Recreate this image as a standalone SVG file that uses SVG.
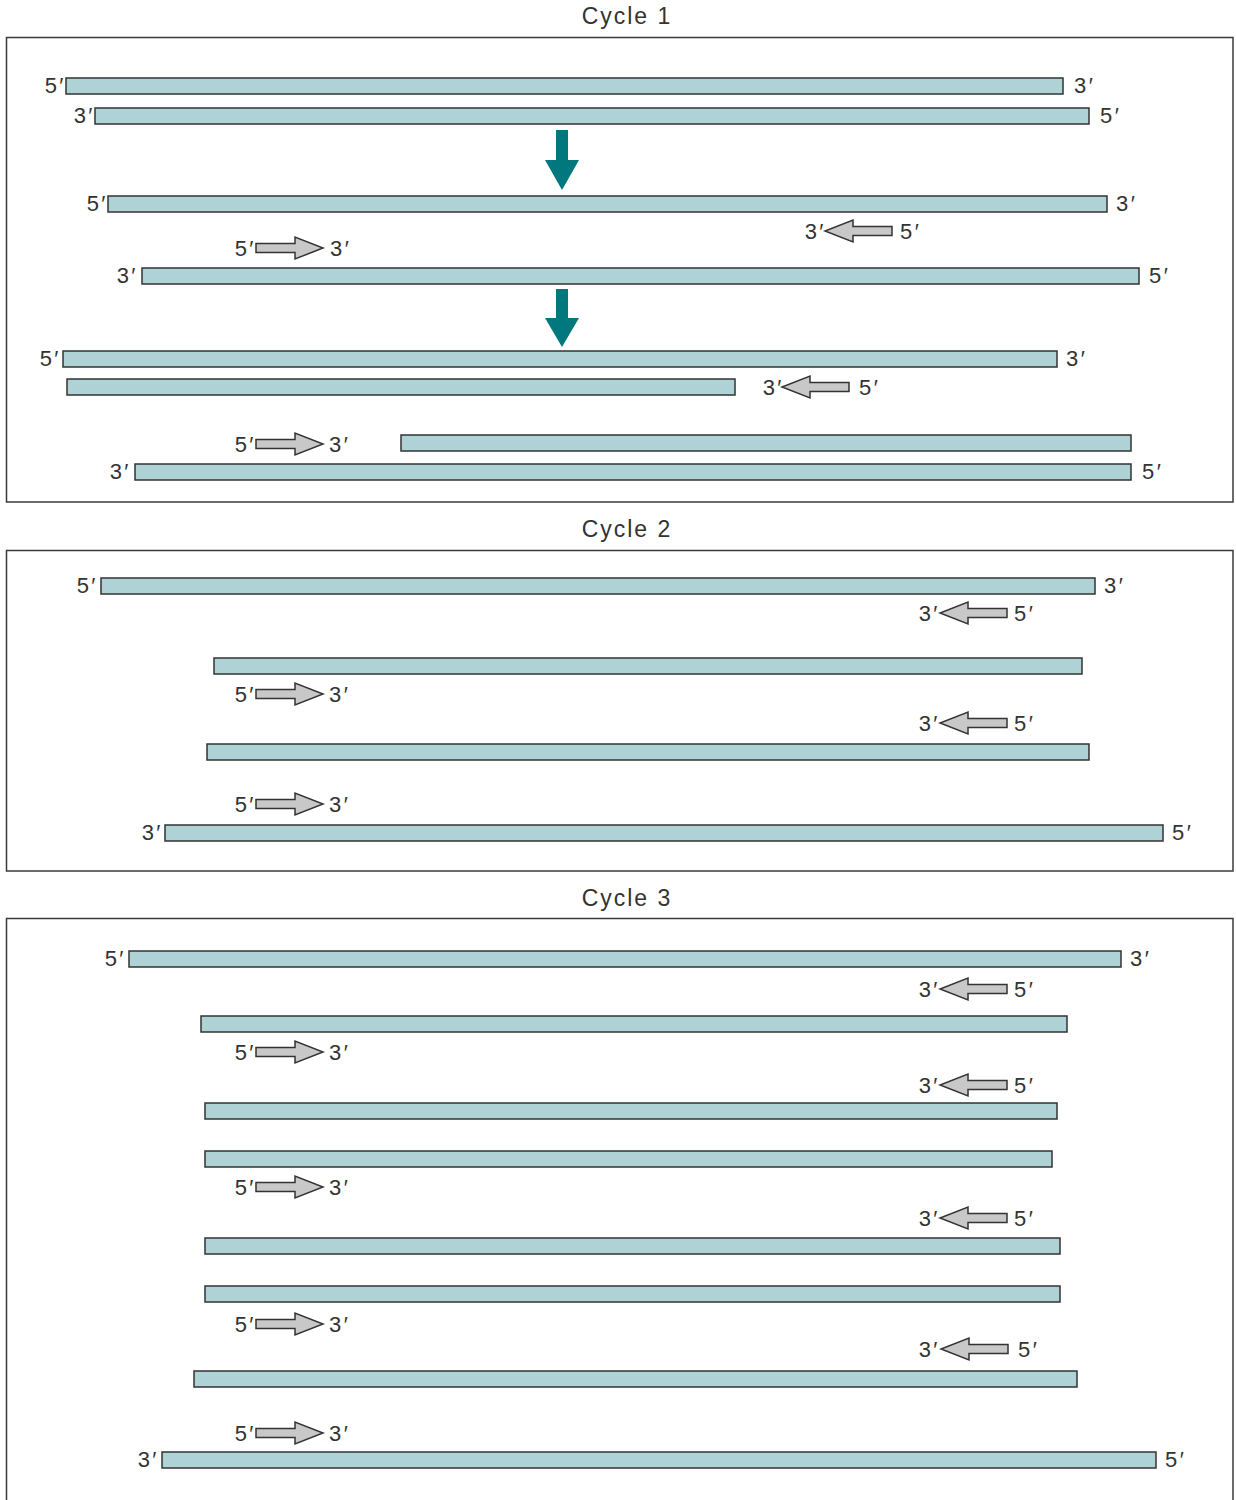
<svg xmlns="http://www.w3.org/2000/svg" xmlns:xlink="http://www.w3.org/1999/xlink" width="1236" height="1500" viewBox="0 0 1236 1500">
<style>
.frame{fill:none;stroke:#3a3a3a;stroke-width:1.5}
.s{fill:#aed2d6;stroke:#333;stroke-width:1.5}
.p{fill:#c8c8c8;stroke:#333;stroke-width:1.5;stroke-linejoin:miter}
.t{font-family:"Liberation Sans",Arial,"DejaVu Sans",sans-serif;font-size:22px;fill:#333;letter-spacing:2.5px}
.h{font-family:"Liberation Sans",Arial,"DejaVu Sans",sans-serif;font-size:23px;fill:#333;letter-spacing:2px;text-anchor:middle}
.e{text-anchor:end}
.big{fill:#00787d}
</style>
<defs>
<path id="fwd" class="p" d="M-67,-4.5 H-28 V-11 L0,0 L-28,11 V4.5 H-67 Z"/>
<path id="rev" class="p" d="M67,-4.5 H28 V-11 L0,0 L28,11 V4.5 H67 Z"/>
</defs>
<rect class="frame" x="6.5" y="37.5" width="1226.5" height="464.5"/>
<rect class="frame" x="6.5" y="550.5" width="1226.5" height="320.5"/>
<rect class="frame" x="6.5" y="918.5" width="1226.5" height="590"/>
<text class="h" x="627" y="24">Cycle 1</text>
<text class="h" x="627" y="537">Cycle 2</text>
<text class="h" x="627" y="906">Cycle 3</text>
<g id="connectors">
<path class="big" d="M556,130 H568 V160 H579 L562,190 L545,160 H556 Z"/>
<path class="big" d="M556,289 H568 V318 H579 L562,347 L545,318 H556 Z"/>
</g>
<!-- Cycle 1 -->
<g id="c1s1"><rect class="s" x="66" y="78" width="997" height="16"/><text class="t e" x="66" y="93">5′</text><text class="t" x="1074" y="93">3′</text></g>
<g id="c1s2"><rect class="s" x="95" y="108" width="994" height="16"/><text class="t e" x="95" y="123">3′</text><text class="t" x="1100" y="123">5′</text></g>
<g id="c1s3"><rect class="s" x="108" y="196" width="999" height="16"/><text class="t e" x="108" y="211">5′</text><text class="t" x="1116" y="211">3′</text></g>
<g id="c1p1"><use xlink:href="#rev" x="825" y="231"/><text class="t e" x="826" y="239">3′</text><text class="t" x="900" y="239">5′</text></g>
<g id="c1p2"><use xlink:href="#fwd" x="323" y="248"/><text class="t e" x="256" y="256">5′</text><text class="t" x="330" y="256">3′</text></g>
<g id="c1s4"><rect class="s" x="142" y="268" width="997" height="16"/><text class="t e" x="138" y="283">3′</text><text class="t" x="1149" y="283">5′</text></g>
<g id="c1s5"><rect class="s" x="63" y="351" width="994" height="16"/><text class="t e" x="61" y="366">5′</text><text class="t" x="1066" y="366">3′</text></g>
<g id="c1s6"><rect class="s" x="67" y="379" width="668" height="16"/></g>
<g id="c1p3"><use xlink:href="#rev" x="782" y="387"/><text class="t e" x="784" y="395">3′</text><text class="t" x="859" y="395">5′</text></g>
<g id="c1p4"><use xlink:href="#fwd" x="323" y="444"/><text class="t e" x="256" y="452">5′</text><text class="t" x="329" y="452">3′</text></g>
<g id="c1s7"><rect class="s" x="401" y="435" width="730" height="16"/></g>
<g id="c1s8"><rect class="s" x="135" y="464" width="996" height="16"/><text class="t e" x="131" y="479">3′</text><text class="t" x="1142" y="479">5′</text></g>
<!-- Cycle 2 -->
<g id="c2s1"><rect class="s" x="101" y="578" width="994" height="16"/><text class="t e" x="98" y="593">5′</text><text class="t" x="1104" y="593">3′</text></g>
<g id="c2p1"><use xlink:href="#rev" x="940" y="613"/><text class="t e" x="940" y="621">3′</text><text class="t" x="1014" y="621">5′</text></g>
<g id="c2s2"><rect class="s" x="214" y="658" width="868" height="16"/></g>
<g id="c2p2"><use xlink:href="#fwd" x="323" y="694"/><text class="t e" x="256" y="702">5′</text><text class="t" x="329" y="702">3′</text></g>
<g id="c2p3"><use xlink:href="#rev" x="940" y="723"/><text class="t e" x="940" y="731">3′</text><text class="t" x="1014" y="731">5′</text></g>
<g id="c2s3"><rect class="s" x="207" y="744" width="882" height="16"/></g>
<g id="c2p4"><use xlink:href="#fwd" x="323" y="804"/><text class="t e" x="256" y="812">5′</text><text class="t" x="329" y="812">3′</text></g>
<g id="c2s4"><rect class="s" x="165" y="825" width="998" height="16"/><text class="t e" x="163" y="840">3′</text><text class="t" x="1172" y="840">5′</text></g>
<!-- Cycle 3 -->
<g id="c3s1"><rect class="s" x="129" y="951" width="992" height="16"/><text class="t e" x="126" y="966">5′</text><text class="t" x="1130" y="966">3′</text></g>
<g id="c3p1"><use xlink:href="#rev" x="940" y="989"/><text class="t e" x="940" y="997">3′</text><text class="t" x="1014" y="997">5′</text></g>
<g id="c3s2"><rect class="s" x="201" y="1016" width="866" height="16"/></g>
<g id="c3p2"><use xlink:href="#fwd" x="323" y="1052"/><text class="t e" x="256" y="1060">5′</text><text class="t" x="329" y="1060">3′</text></g>
<g id="c3p3"><use xlink:href="#rev" x="940" y="1085"/><text class="t e" x="940" y="1093">3′</text><text class="t" x="1014" y="1093">5′</text></g>
<g id="c3s3"><rect class="s" x="205" y="1103" width="852" height="16"/></g>
<g id="c3s4"><rect class="s" x="205" y="1151" width="847" height="16"/></g>
<g id="c3p4"><use xlink:href="#fwd" x="323" y="1187"/><text class="t e" x="256" y="1195">5′</text><text class="t" x="329" y="1195">3′</text></g>
<g id="c3p5"><use xlink:href="#rev" x="940" y="1218"/><text class="t e" x="940" y="1226">3′</text><text class="t" x="1014" y="1226">5′</text></g>
<g id="c3s5"><rect class="s" x="205" y="1238" width="855" height="16"/></g>
<g id="c3s6"><rect class="s" x="205" y="1286" width="855" height="16"/></g>
<g id="c3p6"><use xlink:href="#fwd" x="323" y="1324"/><text class="t e" x="256" y="1332">5′</text><text class="t" x="329" y="1332">3′</text></g>
<g id="c3p7"><use xlink:href="#rev" x="941" y="1349"/><text class="t e" x="940" y="1357">3′</text><text class="t" x="1018" y="1357">5′</text></g>
<g id="c3s7"><rect class="s" x="194" y="1371" width="883" height="16"/></g>
<g id="c3p8"><use xlink:href="#fwd" x="323" y="1433"/><text class="t e" x="256" y="1441">5′</text><text class="t" x="329" y="1441">3′</text></g>
<g id="c3s8"><rect class="s" x="162" y="1452" width="994" height="16"/><text class="t e" x="159" y="1467">3′</text><text class="t" x="1165" y="1467">5′</text></g>
</svg>
